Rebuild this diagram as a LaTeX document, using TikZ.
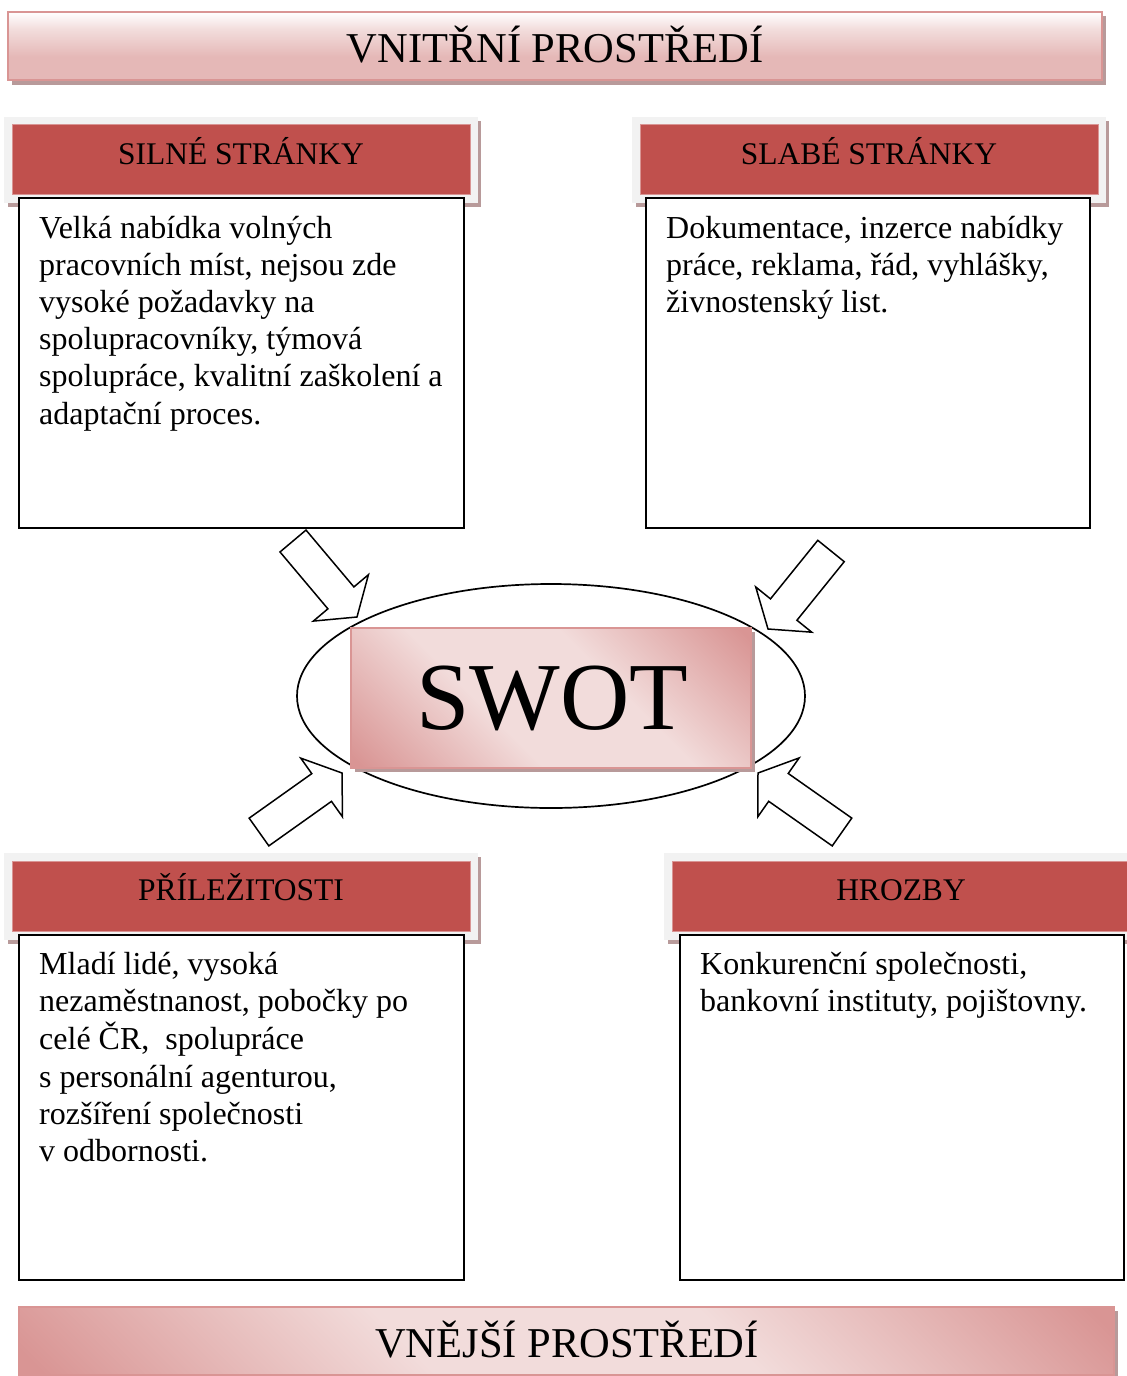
\documentclass[tikz,border=0pt]{standalone}
\usepackage{fontspec}
\setmainfont{Liberation Serif}
\usetikzlibrary{calc,shapes.geometric}
\definecolor{hdrred}{HTML}{C0504D}
\definecolor{frgrey}{HTML}{F2F2F2}
\definecolor{shad}{HTML}{B89A9A}
\definecolor{pkd}{HTML}{D99594}
\definecolor{pkl}{HTML}{F2DCDB}
\definecolor{pkb}{HTML}{E5B8B7}
\pgfdeclarehorizontalshading{swotsh}{100bp}{color(0bp)=(pkd); color(16bp)=(pkd); color(40bp)=(pkl); color(60bp)=(pkl); color(84bp)=(pkd); color(100bp)=(pkd)}
\pgfdeclareverticalshading{topsh}{100bp}{color(0bp)=(pkb); color(25bp)=(pkb); color(42bp)=(pkb); color(62bp)=(pkl); color(75bp)=(white); color(100bp)=(white)}
\newcommand\blockarr[3]{%
  \coordinate (#1n) at ($(#3)!25pt!(#2)$);
  \draw[blk] ($(#2)!17pt!90:(#3)$) -- ($(#1n)!17pt!-90:(#2)$) -- ($(#1n)!36pt!-90:(#2)$) -- (#3)
    -- ($(#1n)!36pt!90:(#2)$) -- ($(#1n)!17pt!90:(#2)$) -- ($(#2)!17pt!-90:(#3)$) -- cycle;}
\begin{document}
\begin{tikzpicture}[x=1pt,y=-1pt,
  box/.style={draw=black, line width=2pt, fill=white, inner sep=0pt},
  hdr/.style={fill=hdrred, draw=pkd, line width=0.8pt, inner sep=0pt, minimum width=458pt, minimum height=70pt},
  hdrtxt/.style={font=\fontsize{31.5}{36}\selectfont, inner sep=0pt, anchor=base},
  body/.style={font=\fontsize{32}{37.2}\selectfont, inner sep=0pt, anchor=base west},
  ban/.style={draw=pkd, line width=2pt, inner sep=0pt, shade, minimum height=68pt},
  bantxt/.style={font=\fontsize{42.5}{50}\selectfont, inner sep=0pt, anchor=base},
  blk/.style={draw=black, fill=white, line width=1.5pt, line join=miter},
  frame/.style={fill=frgrey},
  shadow/.style={fill=shad},
]
\path[use as bounding box] (0,0) rectangle (1127,1376);
\clip (0,0) rectangle (1127,1376);

% top banner
\fill[shadow] (12,16) rectangle (1106,85);
\node[ban, shading=topsh, minimum width=1094pt] (vnitrni) at (555,46) {};
\node[bantxt] (vnitrnit) at (555,62) {VNITŘNÍ PROSTŘEDÍ};

% header frames
\fill[shadow] (8,121) rectangle (481,207);
\fill[frame] (4,117) rectangle (478,203);
\fill[shadow] (636,121) rectangle (1109,207);
\fill[frame] (632,117) rectangle (1106,203);
\fill[shadow] (8,857) rectangle (481,944);
\fill[frame] (4,853) rectangle (478,940);
\fill[shadow] (668,857) rectangle (1141,944);
\fill[frame] (664,853) rectangle (1138,940);

% headers
\node[hdr] (silne) at (241,159) {};
\node[hdrtxt] (silnet) at ($(silne.center)+(0,5)$) {SILNÉ STRÁNKY};
\node[hdr] (slabe) at (869,159) {};
\node[hdrtxt] (slabet) at ($(slabe.center)+(0,5)$) {SLABÉ STRÁNKY};
\node[hdr] (prilez) at (241,896) {};
\node[hdrtxt] (prilezt) at ($(prilez.center)+(0,4)$) {PŘÍLEŽITOSTI};
\node[hdr] (hrozby) at (901,896) {};
\node[hdrtxt] (hrozbyt) at ($(hrozby.center)+(0,4)$) {HROZBY};

% text boxes
\node[box, minimum width=445pt, minimum height=330pt] (b1) at (241.5,363) {};
\node[body] (t1) at ($(b1.north west)+(21,41)$) {\begin{tabular}[t]{@{}l@{}}Velká nabídka volných\\ pracovních míst, nejsou zde\\ vysoké požadavky na\\ spolupracovníky, týmová\\ spolupráce, kvalitní zaškolení a\\ adaptační proces.\end{tabular}};
\node[box, minimum width=444pt, minimum height=330pt] (b2) at (868,363) {};
\node[body] (t2) at ($(b2.north west)+(21,41)$) {\begin{tabular}[t]{@{}l@{}}Dokumentace, inzerce nabídky\\ práce, reklama, řád, vyhlášky,\\ živnostenský list.\end{tabular}};
\node[box, minimum width=445pt, minimum height=345pt] (b3) at (241.5,1107.5) {};
\node[body] (t3) at ($(b3.north west)+(21,40)$) {\begin{tabular}[t]{@{}l@{}}Mladí lidé, vysoká\\ nezaměstnanost, pobočky po\\ celé ČR,\ \ spolupráce\\ s~personální agenturou,\\ rozšíření společnosti\\ v~odbornosti.\end{tabular}};
\node[box, minimum width=444pt, minimum height=345pt] (b4) at (902,1107.5) {};
\node[body] (t4) at ($(b4.north west)+(21,40)$) {\begin{tabular}[t]{@{}l@{}}Konkurenční společnosti,\\ bankovní instituty, pojištovny.\end{tabular}};

% bottom banner
\fill[shadow] (23,1311) rectangle (1118,1380);
\node[ban, shading=swotsh, shading angle=45, minimum width=1095pt] (vnejsi) at (566.5,1341) {};
\node[bantxt] (vnejsit) at (567,1357) {VNĚJŠÍ PROSTŘEDÍ};

% centre
\node[draw=black, line width=1.7pt, ellipse, inner sep=0pt, minimum width=508pt, minimum height=224pt] (ell) at (551,696) {};
\fill[shadow] (355,632) rectangle (755,772);
\node[draw=pkd, line width=1.5pt, shade, shading=swotsh, shading angle=45, inner sep=0pt, minimum width=400pt, minimum height=140pt] (swot) at (551,698) {};
\node[font=\fontsize{96}{110}\selectfont, inner sep=0pt, anchor=base] (swott) at (552,729) {SWOT};

% arrows
\coordinate (tla) at (293,541); \coordinate (tlb) at (357,617);
\coordinate (tra) at (831,551); \coordinate (trb) at (768,629);
\coordinate (bla) at (259,832); \coordinate (blb) at (342,773);
\coordinate (bra) at (842,832); \coordinate (brb) at (758,773);
\blockarr{tl}{tla}{tlb}
\blockarr{tr}{tra}{trb}
\blockarr{bl}{bla}{blb}
\blockarr{br}{bra}{brb}
\end{tikzpicture}
\end{document}
